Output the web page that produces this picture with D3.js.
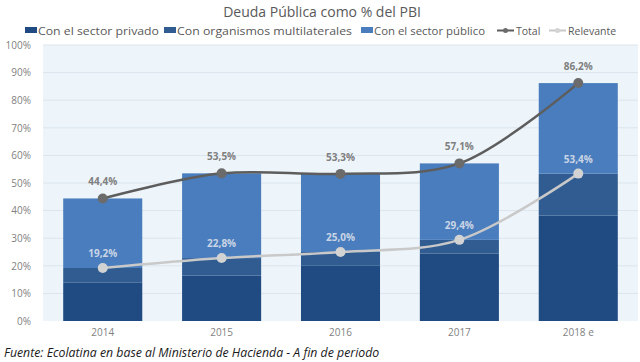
<!DOCTYPE html>
<html>
<head>
<meta charset="utf-8">
<script src="https://cdn.jsdelivr.net/npm/d3@7"></script>
<style>
  body { margin: 0; background: #fff; }
  text { font-family: "Open Sans", sans-serif; }
</style>
</head>
<body>
<svg id="chart" width="640" height="362"></svg>
<script>
// data
const years = ["2014", "2015", "2016", "2017", "2018 e"];
const privado = [14.0, 16.5, 20.0, 24.4, 38.2];
const multilaterales = [5.2, 6.3, 5.0, 5.0, 15.2];
const publico = [25.2, 30.7, 28.3, 27.7, 32.8];
const total = [44.4, 53.5, 53.3, 57.1, 86.2];
const relevante = [19.2, 22.8, 25.0, 29.4, 53.4];
const yTicks = [0, 10, 20, 30, 40, 50, 60, 70, 80, 90, 100];
const seriesNames = ["Con el sector privado", "Con organismos multilaterales", "Con el sector público"];

const svg = d3.select("#chart");
const colors = ["#1f4a82", "#305c91", "#4a7dbd"];

const x = d3.scaleBand().domain(years).range([43, 638]).paddingInner(0.335).paddingOuter(0.17);
const y = d3.scaleLinear().domain([0, 100]).range([321, 45]);

// plot background
svg.append("rect")
  .attr("x", 43).attr("y", 45)
  .attr("width", 595).attr("height", 276)
  .attr("fill", "#eef5fa");

// grid
svg.append("g").selectAll("line")
  .data(yTicks.filter(d => d > 0))
  .enter().append("line")
  .attr("x1", 43).attr("x2", 638)
  .attr("y1", d => y(d)).attr("y2", d => y(d))
  .attr("stroke", "#dbe5ee").attr("stroke-width", 1);

// y axis labels
const yAxis = svg.append("g")
  .attr("transform", "translate(31,0)")
  .call(d3.axisLeft(y).tickValues(yTicks).tickFormat(d => d + "%").tickSize(0).tickPadding(0));
yAxis.select(".domain").remove();
yAxis.selectAll("text").attr("fill", "#7f7f7f").style("font-size", "10px");

// x axis labels
const xAxis = svg.append("g")
  .attr("transform", "translate(0,329)")
  .call(d3.axisBottom(x).tickSize(0).tickPadding(0));
xAxis.select(".domain").remove();
xAxis.selectAll("text").attr("fill", "#7f7f7f").style("font-size", "10px");

// stacked bars
const rows = years.map((yr, i) => ({ year: yr, a: privado[i], b: multilaterales[i], c: publico[i] }));
const stack = d3.stack().keys(["a", "b", "c"])(rows);

svg.append("g").selectAll("g")
  .data(stack)
  .enter().append("g")
  .attr("fill", (d, i) => colors[i])
  .selectAll("rect")
  .data(d => d)
  .enter().append("rect")
  .attr("x", d => x(d.data.year))
  .attr("y", d => y(d[1]))
  .attr("width", x.bandwidth())
  .attr("height", d => y(d[0]) - y(d[1]));

// lines
const cx = d => x(d) + x.bandwidth() / 2;
const line = d3.line()
  .x((d, i) => cx(years[i]))
  .y(d => y(d))
  .curve(d3.curveCatmullRom.alpha(0.5));

function drawSeries(values, stroke, marker, labelColor, dy) {
  svg.append("path")
    .datum(values)
    .attr("d", line)
    .attr("fill", "none")
    .attr("stroke", stroke)
    .attr("stroke-width", 2.5);
  svg.append("g").selectAll("circle")
    .data(values)
    .enter().append("circle")
    .attr("cx", (d, i) => cx(years[i]))
    .attr("cy", d => y(d))
    .attr("r", 5)
    .attr("fill", marker);
  svg.append("g").selectAll("text")
    .data(values)
    .enter().append("text")
    .attr("x", (d, i) => cx(years[i]))
    .attr("y", d => y(d) - dy)
    .attr("text-anchor", "middle")
    .attr("fill", labelColor)
    .style("font-size", "10px")
    .style("font-weight", "bold")
    .text(d => d.toFixed(1).replace(".", ",") + "%");
}

drawSeries(total, "#5d5d5d", "#6b6b6b", "#7f7f7f", 13);
drawSeries(relevante, "#c9c9c9", "#d3d3d3", "#c9d5e6", 11);

// title
svg.append("text")
  .attr("x", 322).attr("y", 17)
  .attr("text-anchor", "middle")
  .attr("fill", "#595959")
  .style("font-size", "14px")
  .text("Deuda Pública como % del PBI");

// legend
const leg = svg.append("g").style("font-size", "10.5px");
const legX = [25, 164, 361];
const legW = [121, 175, 111];
seriesNames.forEach((name, i) => {
  leg.append("rect").attr("x", legX[i]).attr("y", 27).attr("width", 12).attr("height", 6).attr("fill", colors[i]);
  leg.append("text").attr("x", legX[i] + 13).attr("y", 34.5).attr("fill", "#595959")
    .attr("textLength", legW[i]).attr("lengthAdjust", "spacingAndGlyphs").text(name);
});
[["Total", 497, "#5d5d5d", "#6b6b6b"], ["Relevante", 549, "#c9c9c9", "#d3d3d3"]].forEach(([name, lx, s, m]) => {
  leg.append("line").attr("x1", lx).attr("x2", lx + 17).attr("y1", 30.5).attr("y2", 30.5).attr("stroke", s).attr("stroke-width", 2);
  leg.append("circle").attr("cx", lx + 8.5).attr("cy", 30.5).attr("r", 2.5).attr("fill", m);
  leg.append("text").attr("x", lx + 19).attr("y", 34.5).attr("fill", "#595959").text(name);
});

// source
svg.append("text")
  .attr("x", 4).attr("y", 357)
  .attr("fill", "#1a1a1a")
  .style("font-size", "12.3px")
  .style("font-style", "italic")
  .text("Fuente: Ecolatina en base al Ministerio de Hacienda - A fin de periodo");
</script>
</body>
</html>
